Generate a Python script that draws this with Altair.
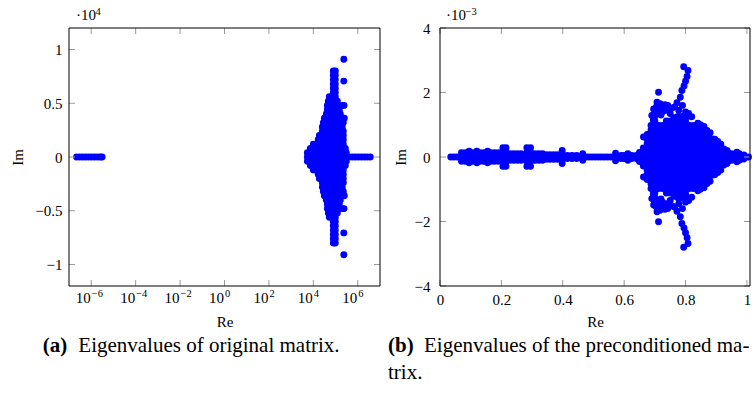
import altair as alt
import pandas as pd

FONT = "'Liberation Serif', 'Times New Roman', 'DejaVu Serif', serif"
BLUE = "#0000ff"
TICK_GREY = "#9a9a9a"

# ---------------- panel (a): eigenvalues of the original matrix ----------------
a_xticks = [1e-6, 1e-4, 1e-2, 1e0, 1e2, 1e4, 1e6]
a_xtick_exp = ["−6", "−4", "−2", "0", "2", "4", "6"]
a_yticks = [-10000, -5000, 0, 5000, 10000]

# tiny eigenvalues on the real axis
a_small_re = [2.2e-7, 3.0e-7, 4.1e-7, 5.6e-7, 7.7e-7, 1.05e-6, 1.44e-6, 1.95e-6, 2.6e-6, 3.1e-6]
# large real eigenvalues (tail on the real axis)
a_tail_re = [4.15e5, 5.66e5, 7.7e5, 1.05e6, 1.44e6, 1.96e6, 2.67e6, 3.65e6]
# main cluster: |Im| -> Re values (eigenvalues come in conjugate pairs)
a_rows = {
    0: [5375, 7333, 10000, 13640, 18610, 25380, 34620, 47230, 64420, 87870, 119900, 163500, 223000, 304200],
    400: [5375, 7333, 10000, 13640, 18610, 25380, 34620, 47230, 64420, 87870, 119900, 163500, 223000, 304200],
    800: [7333, 10000, 13640, 18610, 25380, 34620, 47230, 64420, 87870, 119900, 163500, 223000, 274300],
    1200: [10000, 13640, 18610, 25380, 34620, 47230, 64420, 87870, 119900, 163500, 223000],
    1600: [16500, 25380, 34620, 47230, 64420, 87870, 119900, 163500, 223000],
    2000: [18610, 25380, 34620, 47230, 64420, 87870, 119900, 163500, 223000],
    2400: [25380, 34620, 47230, 64420, 87870, 119900, 163500, 223000],
    2800: [25380, 34620, 47230, 64420, 87870, 119900, 163500, 201100],
    3200: [28140, 38400, 52380, 71440, 97450, 132900, 181300, 223000],
    3600: [31220, 42580, 58080, 79230, 108100, 147400, 201100, 247400],
    4000: [38400, 52380, 71440, 97450, 132900, 163500],
    4400: [42580, 58080, 79230, 108100, 147400],
    4800: [42580, 58080, 79230, 108100, 147400, 201100, 240000],
    5200: [47230, 64420, 87870, 119900],
    5600: [52380, 71440, 97450],
    6000: [79230, 97450],
    6400: [79230, 97450],
    6800: [79230, 97450],
    7200: [79230, 97450],
    7600: [79230, 97450],
    8000: [79230, 97450],
}
a_out_re = [235000, 235000]
a_out_im = [9100, 7060]

# ---------------- panel (b): eigenvalues of the preconditioned matrix (Im in 1e-3) ----------------
b_xticks = [0, 0.2, 0.4, 0.6, 0.8, 1.0]
b_yticks = [-4, -2, 0, 2, 4]

b_line_re = [0.035, 0.045, 0.055, 0.065, 0.075, 0.085, 0.095, 0.105, 0.115, 0.125, 0.135, 0.145,
             0.155, 0.165, 0.175, 0.185, 0.195, 0.205, 0.215, 0.225, 0.235, 0.245, 0.255, 0.265,
             0.275, 0.285, 0.295, 0.305, 0.315, 0.325, 0.335, 0.345, 0.355, 0.365, 0.375, 0.385,
             0.395, 0.405, 0.415, 0.425, 0.435, 0.445, 0.455, 0.465, 0.475, 0.485, 0.495, 0.505,
             0.515, 0.525, 0.535, 0.545, 0.555, 0.565, 0.575, 0.585, 0.595, 0.605, 0.615, 0.625,
             0.635, 0.645, 0.655, 0.665, 0.675, 0.685, 0.695, 0.705, 0.715, 0.725, 0.735, 0.745,
             0.755, 0.765, 0.775, 0.785, 0.795, 0.805, 0.815, 0.825, 0.835, 0.845, 0.855, 0.865,
             0.875, 0.885, 0.895, 0.905, 0.915, 0.925, 0.935, 0.945, 0.955, 0.965, 0.975, 0.985,
             0.995, 1.005]

b_flank_re = [0.07, 0.082, 0.094, 0.106, 0.118, 0.13, 0.142, 0.154, 0.166, 0.178, 0.19,
              0.095, 0.12, 0.155,
              0.205, 0.215, 0.205, 0.215,
              0.228, 0.24, 0.252, 0.264,
              0.283, 0.295, 0.283, 0.295,
              0.31, 0.322, 0.334,
              0.346, 0.358, 0.37, 0.382,
              0.398, 0.398,
              0.415, 0.43, 0.445, 0.465,
              0.572, 0.59, 0.60, 0.612, 0.625, 0.64]
b_flank_im = [0.13, 0.13, 0.13, 0.13, 0.13, 0.13, 0.13, 0.13, 0.13, 0.13, 0.13,
              0.18, 0.18, 0.18,
              0.29, 0.29, 0.15, 0.15,
              0.1, 0.1, 0.1, 0.1,
              0.29, 0.29, 0.15, 0.15,
              0.1, 0.1, 0.1,
              0.07, 0.07, 0.07, 0.07,
              0.2, 0.1,
              0.05, 0.05, 0.05, 0.1,
              0.12, 0.05, 0.05, 0.1, 0.05, 0.05]

# main cluster: Re -> |Im| values
b_cols = {
    0.65: [0.14],
    0.6625: [0.14, 0.28],
    0.675: [0.14, 0.28, 0.42, 0.56, 0.7],
    0.6875: [0.14, 0.28, 0.42, 0.56, 0.7, 0.84, 0.98],
    0.70: [0.14, 0.28, 0.42, 0.56, 0.7, 0.84, 0.98, 1.12],
    0.7125: [0.14, 0.28, 0.42, 0.56, 0.7, 0.84, 0.98],
    0.725: [0.14, 0.28, 0.42, 0.56, 0.7, 0.84, 0.98],
    0.7375: [0.14, 0.28, 0.42, 0.56, 0.7, 0.84, 0.98, 1.12],
    0.75: [0.14, 0.28, 0.42, 0.56, 0.7, 0.84, 0.98, 1.12],
    0.7625: [0.14, 0.28, 0.42, 0.56, 0.7, 0.84, 0.98, 1.12, 1.22],
    0.775: [0.14, 0.28, 0.42, 0.56, 0.7, 0.84, 0.98, 1.12, 1.26],
    0.7875: [0.14, 0.28, 0.42, 0.56, 0.7, 0.84, 0.98, 1.12, 1.26],
    0.80: [0.14, 0.28, 0.42, 0.56, 0.7, 0.84, 0.98, 1.12, 1.2],
    0.8125: [0.14, 0.28, 0.42, 0.56, 0.7, 0.84, 0.98],
    0.825: [0.14, 0.28, 0.42, 0.56, 0.7, 0.84, 0.98],
    0.8375: [0.14, 0.28, 0.42, 0.56, 0.7, 0.84, 0.98],
    0.85: [0.14, 0.28, 0.42, 0.56, 0.7, 0.84, 0.98],
    0.8625: [0.14, 0.28, 0.42, 0.56, 0.7, 0.84],
    0.875: [0.14, 0.28, 0.42, 0.56, 0.7],
    0.8875: [0.14, 0.28, 0.42, 0.56],
    0.90: [0.14, 0.28, 0.42],
    0.9125: [0.14, 0.28, 0.4],
    0.925: [0.14, 0.25],
    0.9375: [0.14],
    0.95: [0.1],
}
b_extra_re = [0.663, 0.69, 0.696, 0.70, 0.707, 0.71, 0.717, 0.72, 0.728, 0.733, 0.745, 0.75, 0.712,
              0.695, 0.70, 0.705, 0.715, 0.725, 0.738, 0.742, 0.756,
              0.765, 0.772, 0.778, 0.783, 0.788, 0.795, 0.80, 0.805, 0.808, 0.794, 0.79, 0.80, 0.81, 0.82,
              0.84, 0.848, 0.86, 0.87, 0.88, 0.895, 0.905, 0.915, 0.935, 0.967, 0.975, 0.99]
b_extra_im = [0.62, 1.29, 1.49, 1.26, 1.7, 1.45, 1.65, 1.3, 1.5, 1.62, 1.5, 1.35, 2.01,
              1.15, 1.4, 1.55, 1.5, 1.4, 1.45, 1.6, 1.52,
              1.55, 1.68, 1.45, 1.85, 2.06, 2.2, 2.35, 2.5, 2.68, 2.8, 1.6, 1.4, 1.35, 1.25,
              1.05, 1.0, 0.95, 0.82, 0.75, 0.55, 0.48, 0.4, 0.2, 0.15, 0.1, 0.06]

# ---------------- texts ----------------
cap_a_label, cap_a_text = "(a)", "Eigenvalues of original matrix."
cap_b_label, cap_b_line1, cap_b_line2 = "(b)", "Eigenvalues of the preconditioned ma-", "trix."
mult_a_base, mult_a_exp = "·10", "4"
mult_b_base, mult_b_exp = "·10", "−3"

# ---------------- build tables ----------------
rows_a = [(r, 0.0) for r in a_small_re + a_tail_re]
for im, res in a_rows.items():
    for r in res:
        rows_a.append((r, float(im)))
        if im:
            rows_a.append((r, -float(im)))
for r, im in zip(a_out_re, a_out_im):
    rows_a += [(r, im), (r, -im)]
df_a = pd.DataFrame(rows_a, columns=["re", "im"])

rows_b = [(r, 0.0) for r in b_line_re]
for r, im in zip(b_flank_re + b_extra_re, b_flank_im + b_extra_im):
    rows_b += [(r, im), (r, -im)]
for r, ims in b_cols.items():
    for im in ims:
        rows_b += [(r, im), (r, -im)]
df_b = pd.DataFrame(rows_b, columns=["re", "im"])

W_A, W_B, H = 311, 310, 258
TL = 6  # tick length
DOT = 48
LBL = 15
CAP = 21

common_axis = dict(grid=False, domain=False, ticks=False, tickSize=0)


def text_mark(s, x, y, size=LBL, weight="normal"):
    return alt.Chart(pd.DataFrame({"t": [s]})).mark_text(
        align="left", baseline="alphabetic", font=FONT, fontSize=size,
        fontWeight=weight, color="black"
    ).encode(x=alt.value(x), y=alt.value(y), text="t:N")


def frame(w):
    return alt.Chart(pd.DataFrame({"t": [0]})).mark_rect(
        fill=None, stroke="black", strokeWidth=1
    ).encode(x=alt.value(0), x2=alt.value(w), y=alt.value(0), y2=alt.value(H))


def tick_layers(xenc, yenc, xdf, ydf, w):
    rule = dict(color=TICK_GREY, strokeWidth=1)
    return [
        alt.Chart(ydf).mark_rule(**rule).encode(y=yenc, x=alt.value(0), x2=alt.value(TL)),
        alt.Chart(ydf).mark_rule(**rule).encode(y=yenc, x=alt.value(w - TL), x2=alt.value(w)),
        alt.Chart(xdf).mark_rule(**rule).encode(x=xenc, y=alt.value(H - TL), y2=alt.value(H)),
        alt.Chart(xdf).mark_rule(**rule).encode(x=xenc, y=alt.value(0), y2=alt.value(TL)),
    ]


# ---------------- panel (a) ----------------
xa = alt.X("re:Q", scale=alt.Scale(type="log", domain=[1e-7, 1e7], nice=False),
           axis=alt.Axis(values=a_xticks, labels=False, title="Re", titleY=40,
                         titleBaseline="alphabetic", **common_axis))
ya = alt.Y("im:Q", scale=alt.Scale(domain=[-12000, 12000], nice=False, zero=False),
           axis=alt.Axis(values=a_yticks, labelExpr="format(datum.value / 10000, '~g')",
                         labelPadding=7, title="Im", titleX=-47, titleY=H / 2, titleAngle=270,
                         titleBaseline="alphabetic", **common_axis))

pts_a = alt.Chart(df_a).mark_circle(size=DOT, color=BLUE, opacity=1).encode(x=xa, y=ya)
df_axt = pd.DataFrame({"re": a_xticks, "exp": a_xtick_exp})
df_ayt = pd.DataFrame({"im": a_yticks})
lbl_a_base = alt.Chart(df_axt).mark_text(
    text="10", align="right", baseline="alphabetic", dx=-0.5, font=FONT, fontSize=LBL, color="black"
).encode(x=xa, y=alt.value(H + 17))
lbl_a_exp = alt.Chart(df_axt).mark_text(
    align="left", baseline="alphabetic", dx=0.5, font=FONT, fontSize=10.5, color="black"
).encode(x=xa, y=alt.value(H + 11), text="exp:N")
anchor = alt.Chart(pd.DataFrame({"t": [0]})).mark_rule(opacity=0).encode(
    x=alt.value(-69), x2=alt.value(-69), y=alt.value(-28), y2=alt.value(-27))

panel_a = alt.layer(
    pts_a, *tick_layers(xa, ya, df_axt, df_ayt, W_A), lbl_a_base, lbl_a_exp,
    text_mark(mult_a_base, 7, -8), text_mark(mult_a_exp, 26.5, -13.5, size=10.5),
    text_mark(cap_a_label, -26.3, 324.3, size=CAP, weight="bold"),
    text_mark(cap_a_text, 9.3, 324.3, size=CAP),
    frame(W_A), anchor,
).properties(width=W_A, height=H)

# ---------------- panel (b) ----------------
xb = alt.X("re:Q", scale=alt.Scale(domain=[0, 1.01], nice=False, zero=False),
           axis=alt.Axis(values=b_xticks, format="~g", labelPadding=18, labelBaseline="alphabetic",
                         labelFlush=False, title="Re", titleY=40, titleBaseline="alphabetic",
                         **common_axis))
yb = alt.Y("im:Q", scale=alt.Scale(domain=[-4, 4], nice=False, zero=False),
           axis=alt.Axis(values=b_yticks, format="~g", labelPadding=10, title="Im", titleX=-35,
                         titleY=H / 2, titleAngle=270, titleBaseline="alphabetic", **common_axis))

pts_b = alt.Chart(df_b).mark_circle(size=DOT, color=BLUE, opacity=1).encode(x=xb, y=yb)
df_bxt = pd.DataFrame({"re": b_xticks})
df_byt = pd.DataFrame({"im": b_yticks})

panel_b = alt.layer(
    pts_b, *tick_layers(xb, yb, df_bxt, df_byt, W_B),
    text_mark(mult_b_base, 6, -8), text_mark(mult_b_exp, 25.5, -13.5, size=10.5),
    text_mark(cap_b_label, -52, 324.3, size=CAP, weight="bold"),
    text_mark(cap_b_line1, -16, 324.3, size=CAP),
    text_mark(cap_b_line2, -52, 351.3, size=CAP),
    frame(W_B),
).properties(width=W_B, height=H)

chart = alt.hconcat(panel_a, panel_b, spacing=60, bounds="flush", padding=0).configure_view(
    stroke=None
).configure_axis(
    labelFont=FONT, titleFont=FONT, labelFontSize=LBL, titleFontSize=15,
    labelColor="black", titleColor="black", titleFontWeight="normal", labelFlush=False
).properties(background="white")

chart.save("out.html", embed_options={"renderer": "svg", "actions": False})
